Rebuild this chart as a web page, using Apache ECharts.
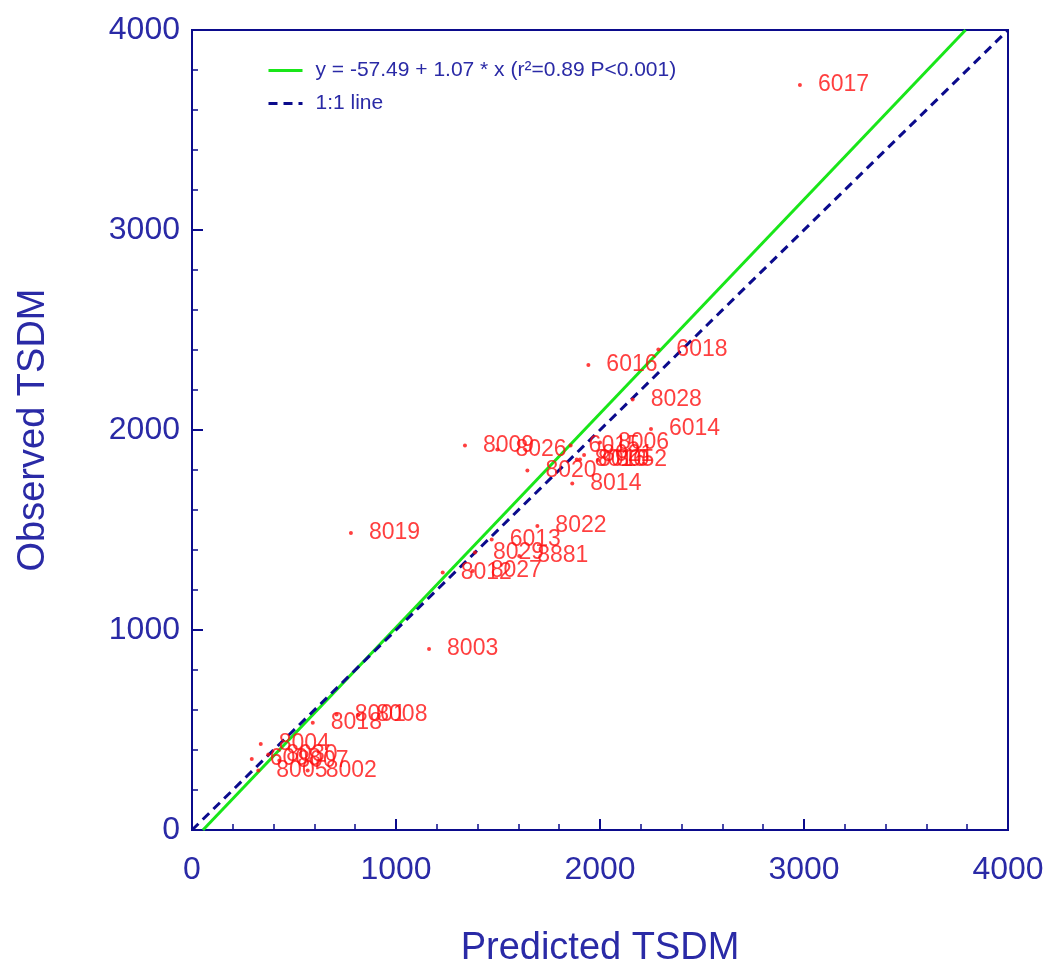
<!DOCTYPE html>
<html>
<head>
<meta charset="utf-8">
<script src="https://cdn.jsdelivr.net/npm/echarts@6/dist/echarts.min.js"></script>
<style>
  html, body { margin: 0; padding: 0; background: #ffffff; }
  #chart { width: 1046px; height: 964px; }
</style>
</head>
<body>
<div id="chart"></div>
<script>
// Site codes with predicted and observed total standing dry matter (TSDM)
const siteNames = ['6017', '6018', '6016', '8028', '6014', '8009', '8026', '6015', '8006',
  '8021', '8016', '8010', '8052', '8020', '8014', '8022', '6013', '8029', '8881', '8012',
  '8027', '8019', '8003', '8018', '8001', '8008', '8004', '6008', '8030', '8007', '8005', '8002'];
const predicted = [2980, 2286, 1943, 2160, 2250, 1338, 1497, 1856, 2000,
  1922, 1886, 1902, 1990, 1644, 1864, 1693, 1469, 1387, 1604, 1229,
  1376, 779, 1162, 592, 709, 815, 337, 293, 374, 428, 325, 567];
const observed = [3725, 2403, 2325, 2153, 2005, 1922, 1903, 1922, 1938,
  1875, 1853, 1853, 1850, 1797, 1733, 1520, 1453, 1388, 1370, 1288,
  1295, 1485, 905, 536, 578, 575, 430, 355, 378, 347, 297, 297];

// Fitted regression: y = a + b * x
const intercept = -57.49;
const slope = 1.07;
const rSquared = 0.89;

const axisMin = 0;
const axisMax = 4000;
const axisStep = 1000;

const navy = '#0b0b8c';
const textBlue = '#2a2aa6';
const labelRed = '#ff0f0f';
const fitGreen = '#19e619';
const fontFamily = '"Liberation Sans", Arial, sans-serif';

// Regression segment clipped to the plotting range
const xAtMinY = (axisMin - intercept) / slope;
const xAtMaxY = (axisMax - intercept) / slope;
const fitLine = [[xAtMinY, axisMin], [xAtMaxY, axisMax]];
const identityLine = [[axisMin, axisMin], [axisMax, axisMax]];

const points = siteNames.map((n, i) => ({ name: n, value: [predicted[i], observed[i]] }));

const fitName = 'y = ' + intercept.toFixed(2) + ' + ' + slope.toFixed(2) +
  ' * x (r\u00B2=' + rSquared.toFixed(2) + ' P<0.001)';
const identityName = '1:1 line';

const axisCommon = {
  type: 'value',
  min: axisMin,
  max: axisMax,
  interval: axisStep,
  nameLocation: 'middle',
  nameTextStyle: { color: textBlue, fontSize: 38, fontFamily: fontFamily },
  axisLine: { show: true, lineStyle: { color: navy, width: 2 } },
  axisTick: { show: true, inside: true, length: 11, lineStyle: { color: navy, width: 2 } },
  minorTick: { show: true, splitNumber: 5, length: 6, lineStyle: { color: navy, width: 1.5 } },
  splitLine: { show: false },
  axisLabel: {
    color: textBlue, fontSize: 32, fontFamily: fontFamily,
    formatter: (v) => String(v)
  }
};

const chart = echarts.init(document.getElementById('chart'), null, { renderer: 'canvas' });
chart.setOption({
  backgroundColor: '#ffffff',
  animation: false,
  grid: {
    left: 192, right: 38, top: 30, bottom: 134,
    outerBoundsMode: 'none',
    containLabel: false,
    show: true, borderColor: navy, borderWidth: 2, backgroundColor: 'transparent'
  },
  legend: {
    orient: 'vertical',
    left: 262,
    top: 55,
    itemWidth: 34,
    itemHeight: 14,
    itemGap: 12,
    itemStyle: { opacity: 0 },
    lineStyle: { width: 3 },
    data: [fitName, identityName],
    textStyle: { color: textBlue, fontSize: 21, fontFamily: fontFamily, padding: [0, 0, 0, 8] }
  },
  xAxis: Object.assign({}, axisCommon, {
    name: 'Predicted TSDM',
    nameGap: 100,
    axisLabel: Object.assign({}, axisCommon.axisLabel, { margin: 24 })
  }),
  yAxis: Object.assign({}, axisCommon, {
    name: 'Observed TSDM',
    nameGap: 139,
    axisLabel: Object.assign({}, axisCommon.axisLabel, { margin: 12 })
  }),
  series: [
    {
      name: fitName,
      type: 'line',
      data: fitLine,
      symbol: 'none',
      lineStyle: { color: fitGreen, width: 3 },
      itemStyle: { color: fitGreen },
      z: 3
    },
    {
      name: identityName,
      type: 'line',
      data: identityLine,
      symbol: 'none',
      lineStyle: { color: navy, width: 3, type: [9, 6] },
      itemStyle: { color: navy },
      z: 3
    },
    {
      name: 'sites',
      type: 'scatter',
      data: points,
      symbol: 'circle',
      symbolSize: 4,
      itemStyle: { color: labelRed },
      label: {
        show: true,
        position: 'right',
        distance: 16,
        formatter: '{b}',
        color: labelRed,
        fontSize: 23,
        fontFamily: fontFamily
      },
      z: 4
    }
  ]
});
</script>
</body>
</html>
